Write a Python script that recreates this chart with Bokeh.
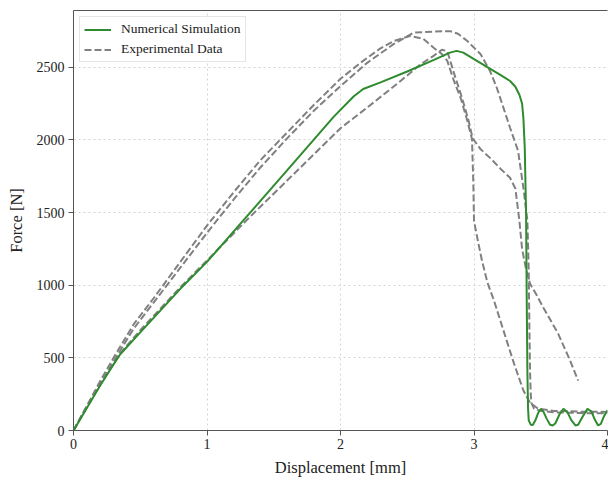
from bokeh.plotting import figure
from bokeh.models import Legend, LegendItem, FixedTicker, LinearAxis
from bokeh.embed import file_html
from bokeh.resources import INLINE

# ---- data ----
x_ticks = [0, 1, 2, 3, 4]
y_ticks = [0, 500, 1000, 1500, 2000, 2500]

sim_x = [0, 0.1, 0.2, 0.3, 0.35, 0.5, 0.8, 1.0, 1.3, 1.6, 1.95, 2.1, 2.17, 2.3, 2.5,
         2.7, 2.82, 2.87, 2.92, 3.0, 3.1, 3.2, 3.27, 3.31, 3.34, 3.36, 3.37, 3.38,
         3.39, 3.395, 3.40, 3.405, 3.41, 3.425, 3.44, 3.46, 3.48, 3.50, 3.52, 3.545,
         3.57, 3.59, 3.61, 3.64, 3.67, 3.70, 3.73, 3.76, 3.78, 3.81, 3.85, 3.88,
         3.905, 3.93, 3.95, 3.975, 4.0]
sim_f = [0, 155, 310, 455, 525, 675, 975, 1160, 1475, 1790, 2160, 2300, 2350, 2395, 2470,
         2550, 2600, 2612, 2600, 2555, 2500, 2445, 2405, 2365, 2310, 2250, 2150, 1950,
         1500, 900, 400, 150, 70, 40, 38, 70, 120, 148, 130, 80,
         40, 35, 50, 110, 150, 125, 70, 35, 40, 90, 150, 130,
         75, 35, 45, 100, 140]

exp1_x = [0, 0.1, 0.2, 0.3, 0.45, 0.6, 0.8, 1.0, 1.2, 1.4, 1.6, 1.8, 2.0, 2.15, 2.3, 2.4,
          2.52, 2.62, 2.7, 2.76, 2.8, 2.85, 2.9, 2.95, 2.985, 2.995, 3.0, 3.03, 3.06,
          3.1, 3.15, 3.22, 3.3, 3.37, 3.42, 3.48, 3.6, 3.8, 4.0]
exp1_f = [0, 170, 340, 500, 730, 910, 1160, 1410, 1640, 1860, 2050, 2240, 2420, 2530, 2630, 2680,
          2715, 2695, 2632, 2590, 2543, 2405, 2289, 2131, 2005, 1700, 1443, 1300, 1168,
          1020, 893, 690, 460, 275, 190, 150, 135, 130, 128]

exp2_x = [0, 0.1, 0.2, 0.3, 0.45, 0.6, 0.8, 1.0, 1.2, 1.4, 1.6, 1.8, 2.0, 2.2, 2.4, 2.55,
          2.7, 2.82, 2.88, 2.95, 3.05, 3.12, 3.17, 3.22, 3.27, 3.33, 3.37, 3.40, 3.41,
          3.415, 3.42, 3.425, 3.43, 3.45, 3.5, 3.6, 3.8, 4.0]
exp2_f = [0, 160, 320, 475, 700, 880, 1120, 1360, 1590, 1810, 2010, 2200, 2370, 2530, 2660, 2738,
          2745, 2748, 2730, 2680, 2589, 2474, 2360, 2222, 2083, 1925, 1670, 1443, 1100,
          700, 400, 250, 190, 150, 135, 125, 120, 118]

exp3_x = [0, 0.1, 0.2, 0.35, 0.5, 0.8, 1.0, 1.3, 1.6, 1.8, 2.0, 2.2, 2.45, 2.6, 2.7, 2.76,
          2.8, 2.86, 2.91, 2.96, 2.99, 3.05, 3.12, 3.2, 3.27, 3.31, 3.34, 3.36, 3.39,
          3.42, 3.47, 3.52, 3.63, 3.72, 3.78]
exp3_f = [0, 165, 320, 530, 690, 985, 1170, 1450, 1720, 1900, 2080, 2222, 2405, 2520, 2580, 2620,
          2610, 2430, 2290, 2130, 2010, 1935, 1876, 1800, 1739, 1665, 1443, 1250, 1110,
          1010, 930, 845, 667, 481, 344]

SERIF = "Liberation Serif"

p = figure(width=608, height=479, x_range=(0, 4), y_range=(0, 2890),
           output_backend="svg", toolbar_location=None,
           min_border_left=73, min_border_right=1, min_border_top=10, min_border_bottom=49)

p.background_fill_color = "white"
p.border_fill_color = "white"
p.outline_line_color = None

# top border line only (the right side of the box is cut off in the reference)
top_axis = LinearAxis(ticker=FixedTicker(ticks=[]), axis_line_color="#555555",
                      major_tick_out=0, major_tick_in=0, minor_tick_out=0, minor_tick_in=0,
                      major_label_text_font_size="0px", major_label_standoff=0)
p.add_layout(top_axis, "above")

grey = "#808080"
green = "#2e8b2e"
r1 = p.line(exp1_x, exp1_f, line_color=grey, line_width=2, line_dash="7 3")
r2 = p.line(exp2_x, exp2_f, line_color=grey, line_width=2, line_dash="7 3")
r3 = p.line(exp3_x, exp3_f, line_color=grey, line_width=2, line_dash="7 3")
rs = p.line(sim_x, sim_f, line_color=green, line_width=2)

for ax in (p.below[0], p.left[0]):
    ax.axis_label_text_font = SERIF
    ax.axis_label_text_font_style = "normal"
    ax.axis_label_text_font_size = "16.5px"
    ax.axis_label_text_color = "#222222"
    ax.major_label_text_font = SERIF
    ax.major_label_text_font_size = "14px"
    ax.major_label_text_color = "#222222"
    ax.axis_line_color = "#555555"
    ax.major_tick_line_color = "#555555"
    ax.major_tick_out = 5
    ax.major_tick_in = 0
    ax.minor_tick_out = 0
    ax.minor_tick_in = 0

p.below[0].ticker = FixedTicker(ticks=x_ticks)
p.left[0].ticker = FixedTicker(ticks=y_ticks)
p.below[0].axis_label = "Displacement [mm]"
p.left[0].axis_label = "Force [N]"
p.below[0].major_label_standoff = 3
p.below[0].axis_label_standoff = 6
p.left[0].major_label_standoff = 4
p.left[0].axis_label_standoff = 8

for g in (p.xgrid, p.ygrid):
    g.grid_line_color = "#d4d4d4"
    g.grid_line_dash = "2 3"
    g.grid_line_width = 1

legend = Legend(items=[LegendItem(label="Numerical Simulation", renderers=[rs]),
                       LegendItem(label="Experimental Data", renderers=[r1])],
                location="top_left")
legend.margin = 6
legend.padding = 4
legend.spacing = 4
legend.glyph_width = 27
legend.glyph_height = 15
legend.label_height = 15
legend.label_standoff = 10
legend.label_text_font = SERIF
legend.label_text_font_size = "13.5px"
legend.label_text_color = "#222222"
legend.border_line_color = "#cccccc"
legend.background_fill_alpha = 0.8
p.add_layout(legend)

open("out.html", "w").write(file_html(p, INLINE))
